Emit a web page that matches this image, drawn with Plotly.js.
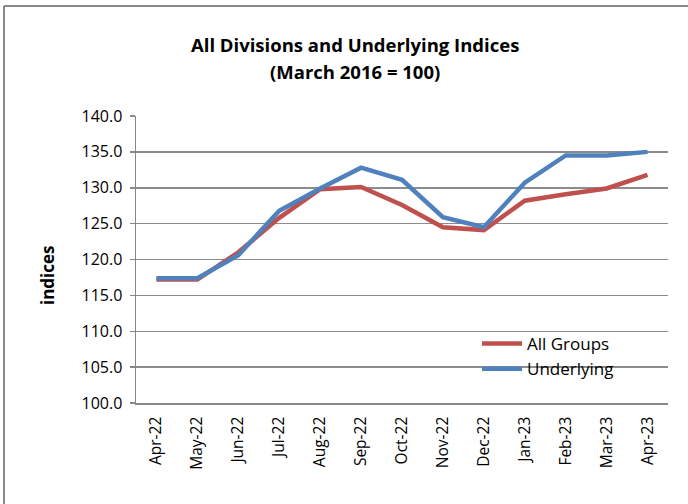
<!DOCTYPE html>
<html>
<head>
<meta charset="utf-8">
<script src="https://cdn.plot.ly/plotly-3.0.1.min.js"></script>
<style>
html,body{margin:0;padding:0;background:#fff;}
#chart{width:688px;height:504px;}
</style>
</head>
<body>
<div id="chart"></div>
<script>
const months = ["Apr-22","May-22","Jun-22","Jul-22","Aug-22","Sep-22","Oct-22","Nov-22","Dec-22","Jan-23","Feb-23","Mar-23","Apr-23"];
const allGroups = [117.2,117.2,121.0,125.8,129.8,130.1,127.6,124.5,124.1,128.2,129.1,129.9,131.8];
const underlying = [117.4,117.4,120.6,126.8,129.9,132.8,131.1,125.9,124.5,130.7,134.5,134.5,135.0];
const yTicks = [100,105,110,115,120,125,130,135,140];
const titleLines = ["All Divisions and Underlying Indices", "(March 2016 = 100)"];

const font = "Open Sans, Liberation Sans, Arial, sans-serif";
const L = 136, T = 116, W = 532, H = 287;
const px = x => (x - L) / W;
const py = y => (T + H - y) / H;

const traces = [
  {x: months, y: allGroups, name: "All Groups", type: "scatter", mode: "lines",
   line: {color: "#C0504D", width: 4.5}},
  {x: months, y: underlying, name: "Underlying", type: "scatter", mode: "lines",
   line: {color: "#4F81BD", width: 4.5}}
];
const layout = {
  width: 688, height: 504,
  margin: {l: L, r: 688 - L - W, t: T, b: 504 - T - H},
  paper_bgcolor: "#fff", plot_bgcolor: "#fff",
  showlegend: true,
  legend: {x: px(477), y: py(326), xanchor: "left", yanchor: "top", bgcolor: "rgba(0,0,0,0)",
           font: {family: font, size: 17, color: "#000"}, tracegroupgap: 0, itemwidth: 40},
  xaxis: {type: "category", tickangle: -90, showgrid: false, showline: true, linecolor: "#888", linewidth: 1.5,
          ticks: "", ticklabelstandoff: 6, tickfont: {family: font, size: 15.5, color: "#000"}, fixedrange: true,
          range: [-0.5, 12.5]},
  yaxis: {range: [100, 140], tickvals: yTicks, ticktext: yTicks.map(v => v.toFixed(1)),
          showgrid: true, gridcolor: "#8c8c8c", gridwidth: 1.5, showline: true, linecolor: "#888", linewidth: 1.5,
          ticks: "outside", ticklen: 5, tickcolor: "#888", tickwidth: 1.5, ticklabelstandoff: 4,
          tickfont: {family: font, size: 16, color: "#000"}, zeroline: false},
  annotations: [
    {text: "<b>" + titleLines[0] + "</b>", xref: "paper", yref: "paper", x: px(355), y: py(44),
     xanchor: "center", yanchor: "middle", showarrow: false,
     font: {family: font, size: 18.5, color: "#000"}},
    {text: "<b>" + titleLines[1] + "</b>", xref: "paper", yref: "paper", x: px(355), y: py(72),
     xanchor: "center", yanchor: "middle", showarrow: false,
     font: {family: font, size: 18.5, color: "#000"}},
    {text: "<b>indices</b>", xref: "paper", yref: "paper", x: px(47), y: py(275),
     xanchor: "center", yanchor: "middle", textangle: -90, showarrow: false,
     font: {family: font, size: 17, color: "#000"}}
  ],
  shapes: [
    {type: "line", xref: "paper", yref: "paper", x0: px(4), x1: px(4), y0: py(6), y1: py(520),
     line: {color: "#888", width: 2}},
    {type: "line", xref: "paper", yref: "paper", x0: px(4), x1: px(700), y0: py(6), y1: py(6),
     line: {color: "#888", width: 2}}
  ]
};
Plotly.newPlot("chart", traces, layout, {displayModeBar: false, staticPlot: true});
</script>
</body>
</html>
